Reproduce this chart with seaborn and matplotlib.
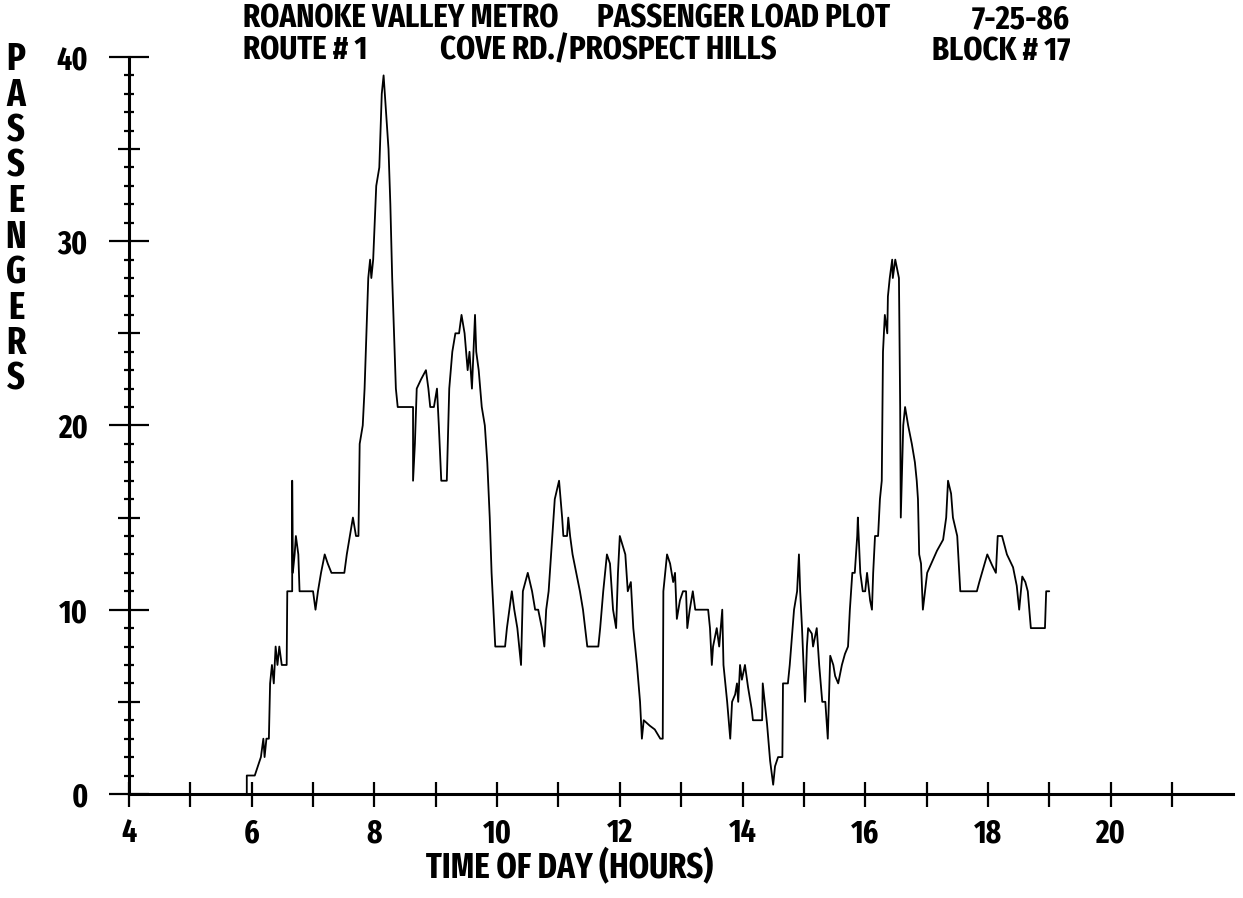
import os
import matplotlib
matplotlib.use("Agg")
import matplotlib.pyplot as plt
import seaborn as sns
from matplotlib import font_manager
from matplotlib.font_manager import FontProperties
from matplotlib.ticker import FixedLocator

# Passenger load on board, by time of day (hours), in stop order.
hours = [
    5.92, 5.92, 6.05, 6.10, 6.15, 6.19, 6.21, 6.24, 6.28, 6.30, 6.33, 6.36, 6.39, 6.42,
    6.45, 6.49, 6.57, 6.58, 6.66, 6.66, 6.67, 6.70, 6.72, 6.76, 6.78, 6.84, 7.00, 7.04,
    7.08, 7.13, 7.19, 7.24, 7.30, 7.51, 7.55, 7.60, 7.65, 7.70, 7.74, 7.76, 7.81, 7.84,
    7.87, 7.90, 7.93, 7.95, 7.98, 8.03, 8.08, 8.12, 8.15, 8.19, 8.23, 8.26, 8.29, 8.32,
    8.35, 8.38, 8.63, 8.63, 8.66, 8.69, 8.76, 8.84, 8.88, 8.91, 8.97, 9.02, 9.05, 9.09,
    9.18, 9.22, 9.27, 9.32, 9.38, 9.42, 9.47, 9.52, 9.55, 9.59, 9.64, 9.66, 9.70, 9.75,
    9.80, 9.84, 9.88, 9.91, 9.94, 9.97, 10.13, 10.16, 10.24, 10.28, 10.33, 10.39, 10.42,
    10.50, 10.57, 10.62, 10.67, 10.73, 10.77, 10.80, 10.84, 10.90, 10.94, 11.01, 11.06,
    11.08, 11.14, 11.16, 11.19, 11.23, 11.29, 11.35, 11.40, 11.47, 11.65, 11.68, 11.73,
    11.79, 11.84, 11.89, 11.94, 11.97, 12.00, 12.09, 12.13, 12.18, 12.22, 12.28, 12.33,
    12.36, 12.39, 12.49, 12.57, 12.66, 12.70, 12.71, 12.77, 12.82, 12.87, 12.90, 12.93,
    12.98, 13.03, 13.08, 13.10, 13.14, 13.19, 13.23, 13.44, 13.47, 13.50, 13.52, 13.58,
    13.62, 13.67, 13.69, 13.72, 13.75, 13.80, 13.83, 13.88, 13.91, 13.93, 13.96, 13.99,
    14.04, 14.09, 14.15, 14.17, 14.32, 14.33, 14.40, 14.45, 14.50, 14.53, 14.58, 14.65,
    14.66, 14.74, 14.77, 14.81, 14.84, 14.89, 14.92, 14.94, 14.97, 15.02, 15.05, 15.07,
    15.13, 15.15, 15.21, 15.25, 15.30, 15.35, 15.39, 15.43, 15.48, 15.51, 15.56, 15.62,
    15.67, 15.72, 15.75, 15.79, 15.83, 15.87, 15.88, 15.92, 15.96, 16.00, 16.03, 16.08,
    16.11, 16.13, 16.16, 16.21, 16.24, 16.27, 16.29, 16.32, 16.36, 16.37, 16.40, 16.44,
    16.45, 16.49, 16.52, 16.55, 16.57, 16.58, 16.62, 16.65, 16.70, 16.76, 16.81, 16.84,
    16.86, 16.88, 16.91, 16.94, 17.01, 17.09, 17.17, 17.27, 17.32, 17.35, 17.40, 17.43,
    17.50, 17.55, 17.82, 17.86, 17.92, 17.99, 18.07, 18.13, 18.16, 18.23, 18.31, 18.41,
    18.44, 18.47, 18.51, 18.56, 18.61, 18.65, 18.70, 18.93, 18.95, 19.00,
]
passengers = [
    0, 1, 1, 1.5, 2, 3, 2, 3, 3, 6, 7, 6, 8, 7,
    8, 7, 7, 11, 11, 17, 12, 13, 14, 13, 11, 11, 11, 10,
    11, 12, 13, 12.5, 12, 12, 13, 14, 15, 14, 14, 19, 20, 22,
    25, 28, 29, 28, 29, 33, 34, 38, 39, 37, 35, 32, 28, 25,
    22, 21, 21, 17, 19, 22, 22.5, 23, 22, 21, 21, 22, 20, 17,
    17, 22, 24, 25, 25, 26, 25, 23, 24, 22, 26, 24, 23, 21,
    20, 18, 15, 12, 10, 8, 8, 9, 11, 10, 9, 7, 11,
    12, 11, 10, 10, 9, 8, 10, 11, 14, 16, 17, 15,
    14, 14, 15, 14, 13, 12, 11, 10, 8, 8, 9, 11,
    13, 12.5, 10, 9, 12, 14, 13, 11, 11.5, 9, 7, 5,
    3, 4, 3.7, 3.5, 3, 3, 11, 13, 12.5, 11.5, 12, 9.5,
    10.5, 11, 11, 9, 10, 11, 10, 10, 9, 7, 8, 9,
    8, 10, 7, 6, 5, 3, 5, 5.4, 6, 5, 7, 6.2,
    7, 5.8, 4.6, 4, 4, 6, 3.8, 1.8, 0.5, 1.5, 2, 2,
    6, 6, 7, 8.7, 10, 11, 13, 11, 9, 5, 8, 9,
    8.7, 8, 9, 7, 5, 5, 3, 7.5, 7, 6.4, 6, 7,
    7.6, 8, 10, 12, 12, 14, 15, 12, 11, 11, 12, 10.5,
    10, 12, 14, 14, 16, 17, 24, 26, 25, 27, 28, 29,
    28, 29, 28.5, 28, 21, 15, 20, 21, 20, 19, 18, 17,
    16, 13, 12.5, 10, 12, 12.6, 13.2, 13.8, 15, 17, 16.3, 15,
    14, 11, 11, 11.5, 12.2, 13, 12.4, 12, 14, 14, 13, 12.3,
    11.8, 11.3, 10, 11.8, 11.5, 11, 9, 9, 11, 11,
]

hour_ticks = list(range(4, 22))
hour_labels = [str(h) if h % 2 == 0 and h <= 20 else "" for h in hour_ticks]
load_ticks = [0, 10, 20, 30, 40]
load_labels = [str(v) for v in load_ticks]
half_ticks = [5, 15, 25, 35]
unit_ticks = [v for v in range(0, 41) if v % 5 != 0]

title_line1 = ["ROANOKE VALLEY METRO", "PASSENGER LOAD PLOT", "7-25-86"]
title_line2 = ["ROUTE # 1", "COVE RD./PROSPECT HILLS", "BLOCK # 17"]
x_title = "TIME OF DAY (HOURS)"
y_title = "PASSENGERS"


def narrow_font():
    """Pick a narrow, heavy face, falling back to a monospace one."""
    best, best_key = None, None
    for e in font_manager.fontManager.ttflist:
        low = os.path.basename(e.fname).lower().replace("-", "").replace("_", "")
        if e.style != "normal":
            continue
        if "extracondensed" in low:
            rank = 0
        elif "ultracondensed" in low:
            rank = 1
        elif "semicondensed" in low:
            rank = 3
        elif "condensed" in low or "narrow" in low or e.stretch == "condensed":
            rank = 2
        else:
            continue
        w = e.weight
        if isinstance(w, str):
            w = font_manager.weight_dict.get(w, 400)
        key = (rank, abs(w - 700))
        if best_key is None or key < best_key:
            best, best_key = e.fname, key
    return best


sns.set_theme(style="white")
face = narrow_font()


def fprops(size):
    if face:
        return FontProperties(fname=face, size=size)
    return FontProperties(family="DejaVu Sans Mono", weight="bold", size=size)


fig = plt.figure(figsize=(12.43, 8.98), dpi=100)
fig.patch.set_facecolor("white")
ax = fig.add_axes([0.0791, 0.0851, 0.9131, 0.872])
ax.set_facecolor("white")

sns.lineplot(x=hours, y=passengers, sort=False, estimator=None,
             color="black", linewidth=1.3, ax=ax)

ax.set_xlim(3.5, 22.0)
ax.set_ylim(-1.5, 41)

for side in ("top", "right"):
    ax.spines[side].set_visible(False)
for side in ("left", "bottom"):
    ax.spines[side].set_color("black")
    ax.spines[side].set_linewidth(2.2)
ax.spines["left"].set_position(("data", 4))
ax.spines["left"].set_bounds(0, 40)
ax.spines["bottom"].set_position(("data", 0))
ax.spines["bottom"].set_bounds(4, 22.0)

ax.xaxis.set_major_locator(FixedLocator(hour_ticks))
ax.set_xticklabels(hour_labels)
ax.tick_params(axis="x", which="major", direction="inout", length=18, width=1.6,
               pad=8, colors="black", bottom=True)

ax.yaxis.set_major_locator(FixedLocator(load_ticks))
ax.set_yticklabels(load_labels)
ax.yaxis.set_minor_locator(FixedLocator(unit_ticks))
ax.tick_params(axis="y", which="major", direction="inout", length=29, width=1.6,
               pad=15, colors="black", left=True)
ax.tick_params(axis="y", which="minor", direction="inout", length=7, width=1.6,
               colors="black", left=True)

# Medium marks at every five passengers, on a twin scale sharing the same axis line
mid = ax.twinx()
mid.set_ylim(ax.get_ylim())
mid.spines["right"].set_position(("data", 4))
for side, sp in mid.spines.items():
    sp.set_color("none")
mid.yaxis.set_major_locator(FixedLocator(half_ticks))
mid.yaxis.set_minor_locator(FixedLocator([]))
mid.tick_params(axis="y", which="major", direction="inout", length=16.5, width=1.6,
                colors="black", right=True, left=False, labelright=False,
                labelleft=False)
mid.grid(False)

for lab in ax.get_xticklabels() + ax.get_yticklabels():
    lab.set_fontproperties(fprops(23))
    lab.set_color("black")
ax.set_xlabel("")
ax.set_ylabel("")

W, H = 1243.0, 898.0
title_size = 24
fig.text(243 / W, 1 - 19 / H, title_line1[0], ha="left", va="center",
         fontproperties=fprops(title_size), color="black")
fig.text(597 / W, 1 - 19 / H, title_line1[1], ha="left", va="center",
         fontproperties=fprops(title_size), color="black")
fig.text(1070 / W, 1 - 19 / H, title_line1[2], ha="right", va="center",
         fontproperties=fprops(title_size), color="black")
fig.text(243 / W, 1 - 51 / H, title_line2[0], ha="left", va="center",
         fontproperties=fprops(title_size), color="black")
fig.text(440 / W, 1 - 51 / H, title_line2[1], ha="left", va="center",
         fontproperties=fprops(title_size), color="black")
fig.text(1070 / W, 1 - 51 / H, title_line2[2], ha="right", va="center",
         fontproperties=fprops(title_size), color="black")

fig.text(570 / W, 1 - 868 / H, x_title, ha="center", va="center",
         fontproperties=fprops(25.5), color="black")
for i, ch in enumerate(y_title):
    fig.text(16 / W, 1 - (60 + 35.5 * i) / H, ch, ha="center", va="center",
             fontproperties=fprops(27), color="black")

fig.savefig("out.png", dpi=100, facecolor="white")
